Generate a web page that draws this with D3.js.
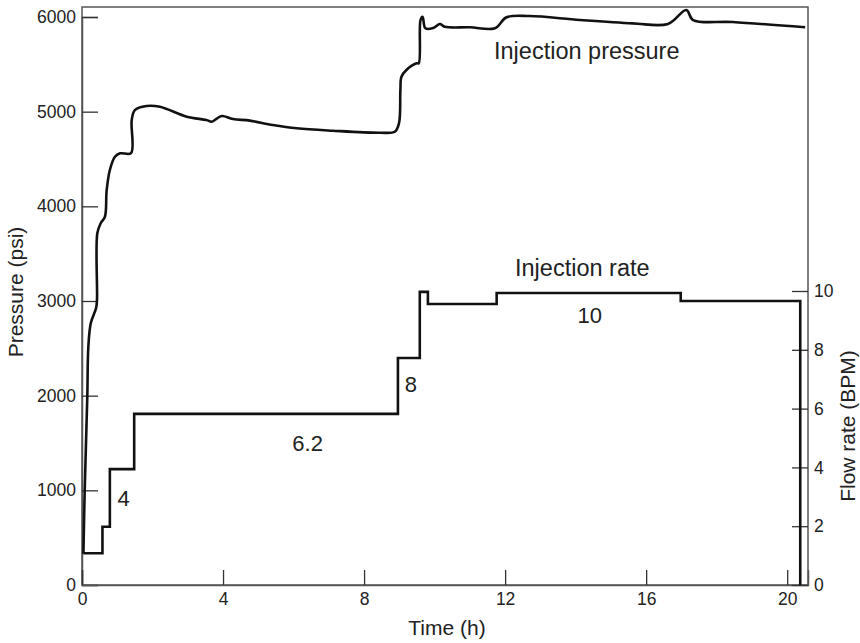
<!DOCTYPE html>
<html><head><meta charset="utf-8">
<script src="https://cdn.jsdelivr.net/npm/d3@7"></script>
<style>
body{margin:0;background:#fff;}
text{font-family:"Liberation Sans",Arial,Helvetica,sans-serif;fill:#222;}
</style></head>
<body>
<svg id="chart" width="860" height="643"></svg>
<script>
// Injection pressure (psi) vs time (h)
const pressureTime = [0.04,0.077,0.15,0.18,0.25,0.40,0.425,0.434,0.53,0.65,0.70,0.79,0.935,1.08,1.39,1.41,1.50,1.83,2.21,2.97,3.53,3.68,3.96,4.28,4.76,5.41,6.09,7.11,8.45,8.87,8.99,9.03,9.06,9.20,9.49,9.55,9.60,9.66,9.74,9.96,10.15,10.29,11.0,11.71,12.04,12.70,14.12,15.62,16.62,17.14,17.33,18.45,20.51];
const pressureVal  = [330,1003,1989,2517,2768,2926,3010,3715,3821,3890,4172,4384,4524,4560,4562,4912,5017,5060,5052,4947,4912,4894,4954,4922,4905,4859,4824,4799,4778,4788,4877,5229,5369,5440,5511,5511,5968,6003,5881,5884,5926,5897,5891,5881,5997,6010,5968,5933,5926,6074,5968,5947,5891];
// Injection rate (BPM) step changes
const rateTime = [0.04,0.58,0.79,1.48,8.96,9.58,9.81,11.76,16.98,20.37];
const rateVal  = [1.08,1.98,3.94,5.82,7.72,9.97,9.56,9.93,9.66,0];
// Tick labels
const timeTicks = [0,4,8,12,16,20];
const pressureTicks = [0,1000,2000,3000,4000,5000,6000];
const rateTicks = [0,2,4,6,8,10];
// Annotations
const rateLabels = [{t:1.18,v:2.7,text:"4"},{t:6.4,v:4.55,text:"6.2"},{t:9.33,v:6.55,text:"8"},{t:14.4,v:8.9,text:"10"}];

const svg = d3.select("#chart");
const L=82, R=808, T=7, B=585;
const x = d3.scaleLinear().domain([0,20.59]).range([L,R]);
const yP = d3.scaleLinear().domain([0,6000]).range([B,17]);
const yR = d3.scaleLinear().domain([0,10]).range([B,291]);

// frame
svg.append("rect").attr("x",L).attr("y",T).attr("width",R-L).attr("height",B-T)
  .attr("fill","none").attr("stroke","#555").attr("stroke-width",1.5);

function styleAxis(g){
  g.select(".domain").attr("stroke","#555").attr("stroke-width",1.5);
  g.selectAll(".tick line").attr("stroke","#333").attr("stroke-width",1.3);
  g.selectAll(".tick text").attr("font-size",17.5).attr("fill","#222")
   .attr("font-family","Liberation Sans,Arial,sans-serif");
}
svg.append("g").attr("transform",`translate(${L},0)`)
  .call(d3.axisLeft(yP).tickValues(pressureTicks).tickSize(-16).tickPadding(6).tickFormat(d3.format("d")))
  .call(styleAxis);
svg.append("g").attr("transform",`translate(0,${B})`)
  .call(d3.axisBottom(x).tickValues(timeTicks).tickSize(-15).tickPadding(8).tickFormat(d3.format("d")))
  .call(styleAxis);
const gr = svg.append("g").attr("transform",`translate(${R},0)`)
  .call(d3.axisRight(yR).tickValues(rateTicks).tickSize(-16).tickPadding(6).tickFormat(d3.format("d")))
  .call(styleAxis);
gr.select(".domain").remove();

// pressure line
const pData = pressureTime.map((t,i)=>[t,pressureVal[i]]);
svg.append("path").datum(pData)
  .attr("fill","none").attr("stroke","#111").attr("stroke-width",2.6).attr("stroke-linejoin","round")
  .attr("d",d3.line().x(d=>x(d[0])).y(d=>yP(d[1])).curve(d3.curveCatmullRom.alpha(0.5)));

// rate line
const rData = rateTime.map((t,i)=>[t,rateVal[i]]);
svg.append("path").datum(rData)
  .attr("fill","none").attr("stroke","#111").attr("stroke-width",2.6).attr("stroke-linejoin","miter")
  .attr("d",d3.line().x(d=>x(d[0])).y(d=>yR(d[1])).curve(d3.curveStepAfter));

// axis titles
svg.append("text").attr("x",(L+R)/2+2).attr("y",635).attr("text-anchor","middle")
  .attr("font-size",21).text("Time (h)");
svg.append("text").attr("transform","translate(23,292) rotate(-90)").attr("text-anchor","middle")
  .attr("font-size",21).text("Pressure (psi)");
svg.append("text").attr("transform","translate(855,426) rotate(-90)").attr("text-anchor","middle")
  .attr("font-size",21).text("Flow rate (BPM)");

// series labels
svg.append("text").attr("x",494).attr("y",59).attr("font-size",23.5).text("Injection pressure");
svg.append("text").attr("x",515).attr("y",276).attr("font-size",23.5).text("Injection rate");
svg.selectAll(".rl").data(rateLabels).enter().append("text")
  .attr("x",d=>x(d.t)).attr("y",d=>yR(d.v)).attr("text-anchor","middle")
  .attr("font-size",22).text(d=>d.text);
</script>
</body></html>
